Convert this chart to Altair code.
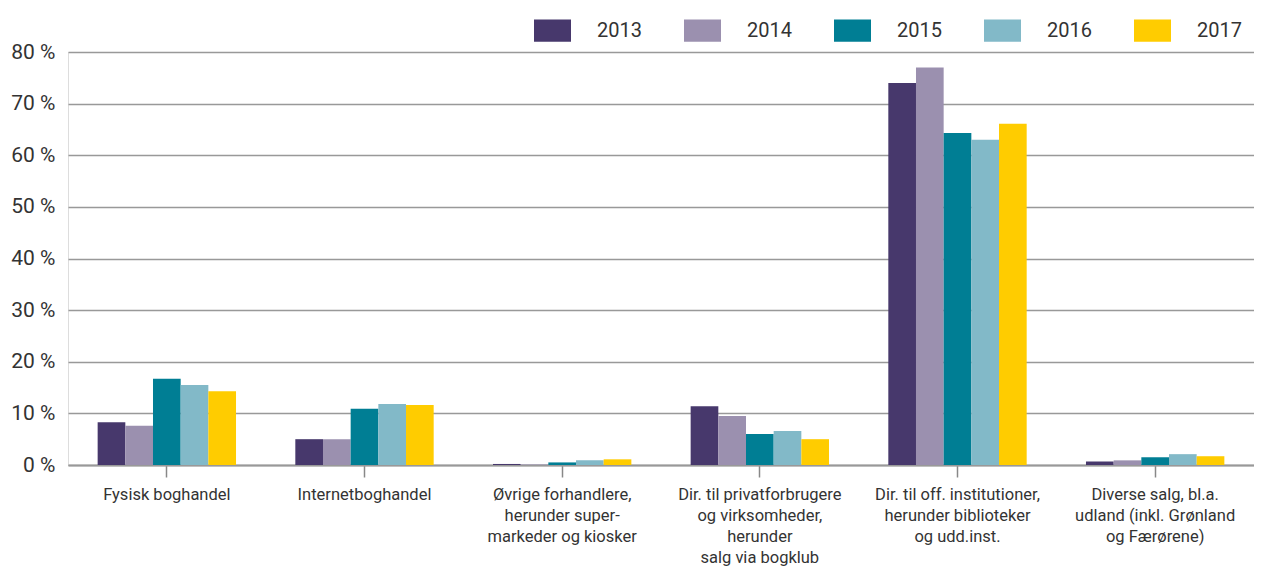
import altair as alt
import pandas as pd

categories = [
    "Fysisk boghandel",
    "Internetboghandel",
    "Øvrige forhandlere,\nherunder super-\nmarkeder og kiosker",
    "Dir. til privatforbrugere\nog virksomheder,\nherunder\nsalg via bogklub",
    "Dir. til off. institutioner,\nherunder biblioteker\nog udd.inst.",
    "Diverse salg, bl.a.\nudland (inkl. Grønland\nog Færørene)",
]
years = ["2013", "2014", "2015", "2016", "2017"]
v2013 = [8.3, 5.0, 0.2, 11.4, 74.0, 0.7]
v2014 = [7.6, 5.0, 0.1, 9.5, 77.0, 0.9]
v2015 = [16.7, 10.9, 0.5, 6.0, 64.3, 1.5]
v2016 = [15.5, 11.8, 0.9, 6.6, 63.0, 2.1]
v2017 = [14.3, 11.6, 1.1, 5.0, 66.1, 1.7]
colors = ["#47386C", "#9B90AF", "#007E94", "#82B9C8", "#FFCC00"]

rows = []
for y, vals in zip(years, [v2013, v2014, v2015, v2016, v2017]):
    for c, v in zip(categories, vals):
        rows.append({"kategori": c, "år": y, "andel": v})
df = pd.DataFrame(rows)

FONT = "Roboto"

chart = alt.Chart(df).mark_bar().encode(
    x=alt.X("kategori:N", sort=categories, title=None,
            scale=alt.Scale(paddingInner=0.3, paddingOuter=0.15),
            axis=alt.Axis(labelAngle=0, labelExpr="split(datum.label, '\\n')",
                          labelFontSize=16.5, labelColor="#333333", labelLineHeight=21,
                          labelPadding=9, tickSize=12, tickColor="#888888", tickWidth=1.5,
                          domainColor="#999999", domainWidth=2, grid=False,
                          labelBaseline="top", labelFont=FONT)),
    xOffset=alt.XOffset("år:N", sort=years),
    y=alt.Y("andel:Q", title=None,
            scale=alt.Scale(domain=[0, 80], nice=False),
            axis=alt.Axis(values=[0, 10, 20, 30, 40, 50, 60, 70, 80],
                          labelExpr="datum.value + ' %'", labelFontSize=21,
                          labelColor="#333333", labelPadding=13, ticks=False,
                          domain=False, gridColor="#999999", gridWidth=1.5,
                          labelFont=FONT)),
    color=alt.Color("år:N", sort=years,
                    scale=alt.Scale(domain=years, range=colors),
                    legend=alt.Legend(title=None, orient="none", direction="horizontal",
                                      legendX=466, legendY=-40, padding=0,
                                      symbolType="M-1,-0.6L1,-0.6L1,0.6L-1,0.6Z",
                                      symbolSize=1369, symbolStrokeWidth=0,
                                      symbolOpacity=1, labelFontSize=20,
                                      labelColor="#333333", labelOffset=26,
                                      columnPadding=42, labelFont=FONT)),
).properties(
    width=1186, height=413,
    autosize=alt.AutoSizeParams(type="none"),
    padding={"left": 60, "top": 44, "right": 0, "bottom": 110},
).configure_view(
    fill="#EDEDE9", stroke=None
).configure(font=FONT)

chart.save("out.html", embed_options={"renderer": "svg", "actions": False})
